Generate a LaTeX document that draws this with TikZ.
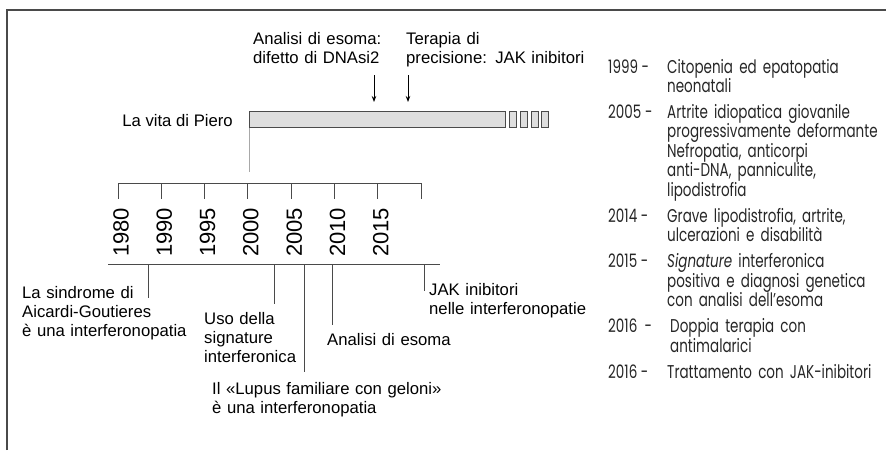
\documentclass[tikz,border=0pt]{standalone}
\usepackage{fontspec}
\setmainfont{Liberation Sans}
\newfontfamily\fut[FakeStretch=0.73]{Poppins}
\usetikzlibrary{arrows.meta}
\definecolor{linegray}{HTML}{4A4A4A}
\definecolor{barfill}{HTML}{DEDEDE}
\definecolor{lightline}{HTML}{A8A8A8}
\begin{document}
\begin{tikzpicture}[x=1pt,y=-1pt,
  lbl/.style={font=\fontsize{16.7}{19}\selectfont, inner sep=0pt, anchor=base west, align=left, text width=300pt},
  yearlbl/.style={font=\fontsize{22}{22}\selectfont, inner sep=0pt, rotate=90},
  rtyear/.style={font=\fut\fontsize{18.5}{19.5}\selectfont, inner sep=0pt, anchor=base west, text=black!85},
  rttext/.style={font=\fut\fontsize{18.5}{19.5}\selectfont, inner sep=0pt, anchor=base west, align=left, text width=300pt, text=black!85},
  frameline/.style={draw=linegray, line width=1.6pt},
  axisline/.style={draw=linegray, line width=1pt},
  dropline/.style={draw=linegray, line width=0.8pt},
  barbox/.style={draw=linegray, fill=barfill, line width=1pt},
  pointer/.style={draw=black, line width=0.8pt, -{Stealth[length=6pt,width=4.5pt]}}
]
\useasboundingbox (0,0) rectangle (886,450);
% frame
\coordinate (fbl) at (7,450);
\coordinate (ftl) at (7,10);
\coordinate (ftr) at (886,10);
\draw[frameline] (fbl) -- (ftl) -- (ftr);

% life bar
\node[barbox, minimum width=256pt, minimum height=16pt, inner sep=0pt, anchor=north west] (bar) at (249,111) {};
\foreach \i/\x in {1/509,2/520,3/531,4/541}{
  \node[barbox, minimum width=7pt, minimum height=16pt, inner sep=0pt, anchor=north west] (sb\i) at (\x,111) {};
}
\node[font=\fontsize{16.7}{19}\selectfont, inner sep=0pt, anchor=base east] (vita) at (233,126) {La vita di Piero};

% top labels and arrows
\node[lbl] (esoma) at (253,44) {Analisi di esoma:\\difetto di DNAsi2};
\node[lbl] (terapia) at (406,44) {Terapia di\\precisione: JAK inibitori};
\coordinate (a1s) at (374,75);
\coordinate (a1e) at (374,102);
\coordinate (a2s) at (408,75);
\coordinate (a2e) at (408,102);
\draw[pointer] (a1s) -- (a1e);
\draw[pointer] (a2s) -- (a2e);

% connector from bar to ruler
\coordinate (barlink) at (249,172);
\draw[draw=lightline, line width=1pt] (bar.south west) -- (barlink);

% ruler
\coordinate (rl) at (118,183);
\coordinate (rr) at (421,183);
\draw[axisline] (rl) -- (rr);
\foreach \k in {0,...,7}{
  \coordinate (t\k) at ({118+\k*43.3},183);
  \coordinate (tb\k) at ({118+\k*43.3},199);
  \draw[axisline] (t\k) -- (tb\k);
}
\foreach \k/\yr in {0/1980,1/1990,2/1995,3/2000,4/2005,5/2010,6/2015}{
  \node[yearlbl] (y\yr) at ({121+\k*43.3},232.5) {\yr};
}

% baseline
\coordinate (bl) at (108,264);
\coordinate (br) at (440,264);
\draw[axisline] (bl) -- (br);

% drop lines and labels
\node[lbl] (aicardi) at (22,298) {La sindrome di\\Aicardi-Goutieres\\è una interferonopatia};
\node[lbl] (uso) at (204,324) {Uso della\\signature\\interferonica};
\node[lbl] (lupus) at (212,394) {Il «Lupus familiare con geloni»\\è una interferonopatia};
\node[lbl] (analisi) at (327,345) {Analisi di esoma};
\node[lbl] (jak) at (429,295) {JAK inibitori\\nelle interferonopatie};

\coordinate (d1t) at (148,264); \coordinate (d1b) at (148,298);
\coordinate (d2t) at (274,264); \coordinate (d2b) at (274,304);
\coordinate (d3t) at (304,264); \coordinate (d3b) at (304,372);
\coordinate (d4t) at (332,264); \coordinate (d4b) at (332,325);
\coordinate (d5t) at (424,264); \coordinate (d5b) at (424,291);
\foreach \i in {1,...,5}{ \draw[dropline] (d\i t) -- (d\i b); }

% right panel
\node[rtyear] (r1y) at (608,73) {1999 -};
\node[rttext] (r1t) at (667,73) {Citopenia ed epatopatia\\neonatali};
\node[rtyear] (r2y) at (608,118) {2005 -};
\node[rttext] (r2t) at (667,118) {Artrite idiopatica giovanile\\progressivamente deformante\\Nefropatia, anticorpi\\anti-DNA, panniculite,\\lipodistrofia};
\node[rtyear] (r3y) at (608,222) {2014 -};
\node[rttext] (r3t) at (667,222) {Grave lipodistrofia, artrite,\\ulcerazioni e disabilità};
\node[rtyear] (r4y) at (608,267.5) {2015 -};
\node[rttext] (r4t) at (667,267.5) {\textit{Signature} interferonica\\positiva e diagnosi genetica\\con analisi dell’esoma};
\node[rtyear] (r5y) at (608,332.5) {2016 \ -};
\node[rttext] (r5t) at (670,332.5) {Doppia terapia con\\antimalarici};
\node[rtyear] (r6y) at (608,378) {2016 -};
\node[rttext] (r6t) at (667,378) {Trattamento con JAK-inibitori};
\end{tikzpicture}
\end{document}
